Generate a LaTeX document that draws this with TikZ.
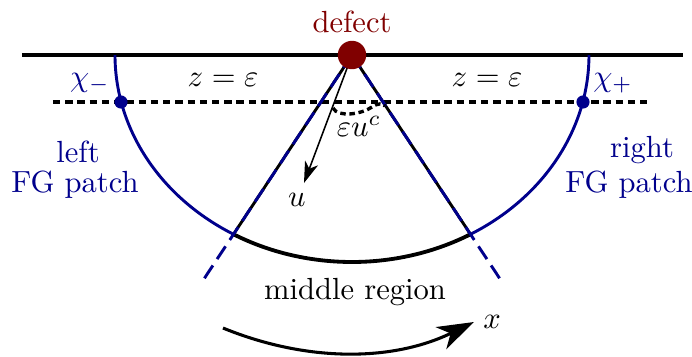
\documentclass[tikz,border=0pt]{standalone}
\usetikzlibrary{arrows.meta,calc}
\definecolor{fgblue}{RGB}{0,0,140}
\definecolor{defectred}{RGB}{128,0,0}
\begin{document}
\begin{tikzpicture}[x=0.327pt,y=-0.327pt,
  bluecurve/.style={fgblue,line width=0.95pt},
  rayline/.style={line width=0.95pt},
  bluedash/.style={fgblue,line width=0.95pt,dash pattern=on 5pt off 2.5pt},
  lbl/.style={inner sep=0pt},
  bluelbl/.style={inner sep=0pt,text=fgblue},
  dotnode/.style={circle,fill=fgblue,inner sep=0pt,minimum size=4.3pt}]
\useasboundingbox (0,0) rectangle (692,356);
% key coordinates
\coordinate (dc) at (352,55);
\coordinate (L) at ({352+237*cos(120)},{55+207*sin(120)});
\coordinate (R) at ({352+237*cos(60)},{55+207*sin(60)});
\coordinate (topL) at (22,55);
\coordinate (topR) at (683,55);
\coordinate (dashL) at (53,102);
\coordinate (dashR) at (651,102);
\coordinate (utip) at (304,183);
\coordinate (c0) at (333,108);
\coordinate (c1) at (385,106);
\coordinate (a0) at (223,328);
\coordinate (a1) at (474,322);
% top boundary
\draw[line width=1.3pt] (topL) -- (topR);
% dashed z = eps line
\draw[line width=1pt,dash pattern=on 2.4pt off 1.6pt] (dashL) -- (dashR);
% blue FG arcs
\draw[bluecurve] plot[domain=180:120,samples=60] ({352+237*cos(\x)},{55+207*sin(\x)});
\draw[bluecurve] plot[domain=60:0,samples=60] ({352+237*cos(\x)},{55+207*sin(\x)});
% middle black arc
\draw[line width=1.25pt] plot[domain=120:60,samples=60] ({352+237*cos(\x)},{55+207*sin(\x)});
% rays
\draw[rayline] (dc) -- (L);
\draw[rayline] (dc) -- (R);
\draw[bluedash] (dc) -- ($(dc)!1.268!(L)$);
\draw[bluedash] (dc) -- ($(dc)!1.278!(R)$);
% u arrow
\draw[line width=0.5pt,-{Stealth[length=7pt,width=4.5pt,inset=2pt]}] (dc) -- (utip);
% dashed curve eps u^c
\draw[line width=1.1pt,dash pattern=on 1.8pt off 1.2pt] (c0) .. controls (338,118) and (362,114) .. (372,107) .. controls (378,103) and (383,103) .. (c1);
% dots
\node[dotnode] (chim) at (121,102) {};
\node[dotnode] (chip) at (583,102) {};
% defect
\node[circle,fill=defectred,inner sep=0pt,minimum size=9.3pt] (d) at (dc) {};
\node[lbl,text=defectred] (dl) at (352,22) {defect};
% labels
\node[bluelbl] (lchim) at (90,83) {$\chi_-$};
\node[bluelbl] (lchip) at (613,83) {$\chi_+$};
\node[lbl] (zl) at (223,80) {$z=\varepsilon$};
\node[lbl] (zr) at (487,80) {$z=\varepsilon$};
\node[lbl] (eu) at (359,126) {$\varepsilon u^c$};
\node[lbl] (ul) at (297,200) {$u$};
\node[bluelbl] (lft1) at (78,152) {left};
\node[bluelbl] (lft2) at (75,185) {FG patch};
\node[bluelbl] (rgt1) at (642,150) {right};
\node[bluelbl] (rgt2) at (629,185) {FG patch};
\node[lbl] (mid) at (355,292) {middle region};
% x arrow
\draw[line width=1pt,-{Stealth[length=12pt,width=8pt,inset=3.5pt]}] (a0) .. controls (306,362) and (392,362) .. (a1);
\node[lbl] (xl) at (492,322) {$x$};
\end{tikzpicture}
\end{document}
